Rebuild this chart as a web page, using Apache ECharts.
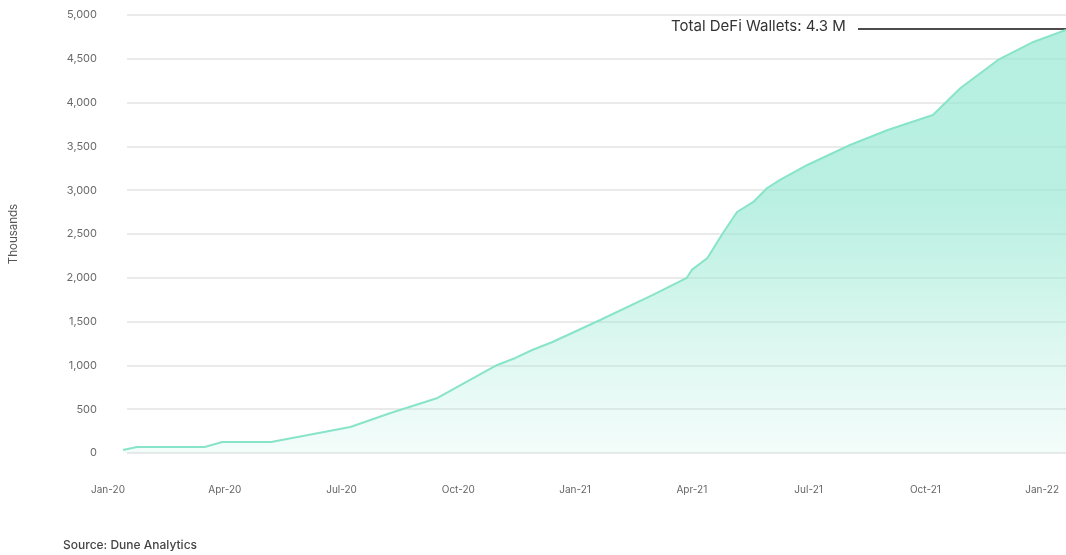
<!DOCTYPE html>
<html>
<head>
<meta charset="utf-8">
<script src="https://cdn.jsdelivr.net/npm/echarts@6/dist/echarts.min.js"></script>
<style>
	html, body { margin: 0; padding: 0; background: #fff; }
	#chart { width: 1066px; height: 555px; }
</style>
</head>
<body>
<div id="chart"></div>
<script>
	// dates of each reading and the running total of DeFi wallets (thousands)
	const dates = [
		'2020-01-13', '2020-01-24', '2020-03-16', '2020-03-30', '2020-05-07',
		'2020-07-08', '2020-08-09', '2020-09-15', '2020-10-10', '2020-11-01',
		'2020-11-15', '2020-11-28', '2020-12-14', '2021-01-21', '2021-03-01',
		'2021-03-28', '2021-04-01', '2021-04-13', '2021-04-25', '2021-05-06',
		'2021-05-19', '2021-05-30', '2021-06-09', '2021-06-30', '2021-08-03',
		'2021-09-02', '2021-10-07', '2021-10-29', '2021-11-27', '2021-12-25',
		'2022-01-20'
	]
	const wallets = [
		35, 68, 68, 125, 125,
		297, 457, 628, 833, 1005,
		1085, 1176, 1267, 1518, 1804,
		2000, 2090, 2226, 2511, 2751,
		2866, 3025, 3117, 3288, 3516,
		3687, 3859, 4167, 4487, 4692,
		4829
	]
	const quarterNames = ['Jan', 'Apr', 'Jul', 'Oct']
	const yTicks = { min: 0, max: 5000, step: 500 }

	// months since 1 Jan 2020, so quarters sit at 0, 3, 6 ...
	function toMonths(s) {
		const [y, m, d] = s.split('-').map(Number)
		const days = new Date(y, m, 0).getDate()
		return (y - 2020) * 12 + (m - 1) + (d - 1) / days
	}
	const points = dates.map((d, i) => [toMonths(d), wallets[i]])
	const lastMonth = points[points.length - 1][0]

	const font = 'Inter, "Noto Sans", sans-serif'
	const chart = echarts.init(document.getElementById('chart'))
	const option = {
		animation: false,
		backgroundColor: '#fff',
		grid: [
			{ left: 108, right: 0, top: 15, bottom: 102 },
			{ left: 122, right: 0, top: 15, bottom: 102 }
		],
		xAxis: [
			{
				type: 'value',
				gridIndex: 0,
				min: 0,
				max: lastMonth,
				interval: 3,
				axisLine: { show: false },
				axisTick: { show: false },
				splitLine: { show: false },
				axisLabel: {
					showMaxLabel: false,
					margin: 32,
					color: '#666',
					fontSize: 10,
					fontFamily: font,
					formatter: function (v) {
						const q = quarterNames[(v % 12) / 3]
						return q + '-' + (20 + Math.floor(v / 12))
					}
				}
			},
			{
				type: 'value',
				gridIndex: 1,
				min: 0,
				max: 1,
				show: false
			}
		],
		yAxis: [
			{
				type: 'value',
				gridIndex: 0,
				min: yTicks.min,
				max: yTicks.max,
				show: false,
				splitLine: { show: false }
			},
			{
				type: 'value',
				gridIndex: 1,
				min: yTicks.min,
				max: yTicks.max,
				interval: yTicks.step,
				name: 'Thousands',
				nameLocation: 'middle',
				nameGap: 107,
				nameTextStyle: { color: '#555', fontSize: 11.5, fontFamily: font },
				axisLine: { show: false },
				axisTick: { show: false },
				axisLabel: {
					margin: 30,
					color: '#6a6a6a',
					fontSize: 11,
					fontFamily: font,
					formatter: v => v.toLocaleString('en-US')
				},
				splitLine: { lineStyle: { color: '#e3e3e3', width: 1.5 } }
			}
		],
		series: [{
			type: 'line',
			xAxisIndex: 0,
			yAxisIndex: 0,
			data: points,
			showSymbol: false,
			lineStyle: { color: '#88e4c8', width: 2 },
			areaStyle: {
				color: new echarts.graphic.LinearGradient(0, 0, 0, 1, [
					{ offset: 0, color: 'rgba(150,232,210,1)' },
					{ offset: 0.4, color: 'rgba(150,232,210,0.95)' },
					{ offset: 0.64, color: 'rgba(150,232,210,0.62)' },
					{ offset: 0.87, color: 'rgba(150,232,210,0.3)' },
					{ offset: 1, color: 'rgba(150,232,210,0.16)' }
				])
			}
		}],
		graphic: [
			{
				type: 'text',
				left: 671,
				top: 19,
				style: { text: 'Total DeFi Wallets: 4.3 M', fill: '#333', fontSize: 15, fontFamily: font }
			},
			{
				type: 'line',
				shape: { x1: 858, y1: 29, x2: 1066, y2: 29 },
				style: { stroke: '#111', lineWidth: 1.5 }
			},
			{
				type: 'text',
				left: 63,
				top: 539,
				style: { text: 'Source: Dune Analytics', fill: '#444', fontSize: 12, fontWeight: 500, fontFamily: font }
			}
		]
	}
	chart.setOption(option)
</script>
</body>
</html>
